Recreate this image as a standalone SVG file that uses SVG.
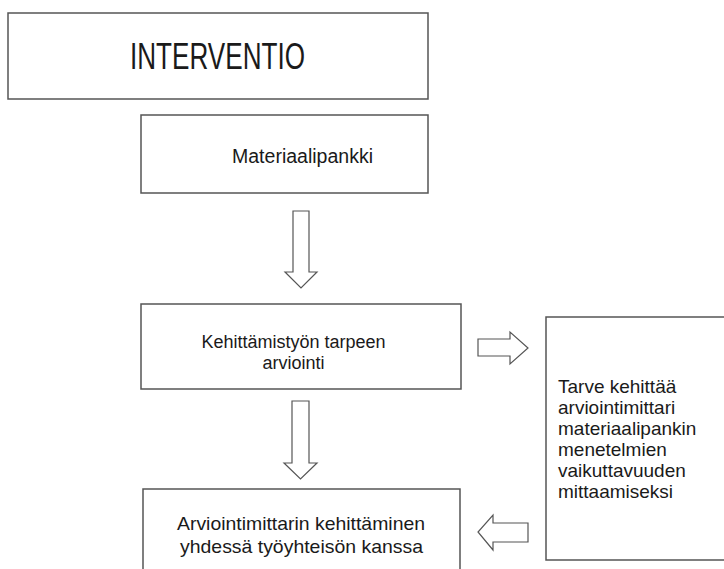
<svg xmlns="http://www.w3.org/2000/svg" width="724" height="569" viewBox="0 0 724 569">
<style>
.box{fill:#fff;stroke:#555;stroke-width:1.5}
.arr{fill:#fff;stroke:#555;stroke-width:1.2;stroke-linejoin:miter}
text{font-family:"Liberation Sans",Arial,sans-serif;fill:#1a1a1a}
.c{text-anchor:middle}
.t{font-size:19px}
</style>
<rect width="724" height="569" fill="#fff"/>
<g id="interventio">
<rect class="box" x="8" y="13" width="420" height="86"/>
<text x="130" y="69" font-size="36" textLength="175" lengthAdjust="spacingAndGlyphs">INTERVENTIO</text>
</g>
<g id="materiaalipankki">
<rect class="box" x="141" y="115" width="287" height="78"/>
<text x="232" y="163" font-size="19.5" textLength="141" lengthAdjust="spacingAndGlyphs">Materiaalipankki</text>
</g>
<g id="kehittamistyon">
<rect class="box" x="141" y="304" width="320" height="85"/>
<text class="c" x="293.5" y="348" font-size="18">Kehittämistyön tarpeen</text>
<text class="c" x="293.5" y="369" font-size="18">arviointi</text>
</g>
<g id="tarve">
<rect class="box" x="546" y="317" width="190" height="243"/>
<text class="t" x="558" y="393">Tarve kehittää</text>
<text class="t" x="558" y="414">arviointimittari</text>
<text class="t" x="558" y="435">materiaalipankin</text>
<text class="t" x="558" y="456">menetelmien</text>
<text class="t" x="558" y="477">vaikuttavuuden</text>
<text class="t" x="558" y="498">mittaamiseksi</text>
</g>
<g id="arviointimittari">
<rect class="box" x="143" y="489" width="317" height="90"/>
<text x="177" y="530" font-size="19" textLength="248" lengthAdjust="spacingAndGlyphs">Arviointimittarin kehittäminen</text>
<text x="180" y="553" font-size="19" textLength="243" lengthAdjust="spacingAndGlyphs">yhdessä työyhteisön kanssa</text>
</g>
<g id="connectors">
<polygon class="arr" points="293,211 309,211 309,272 317,272 301,288 285,272 293,272"/>
<polygon class="arr" points="292,401 309,401 309,463 317,463 300.5,479 284,463 292,463"/>
<polygon class="arr" points="478,339 510,339 510,332 528,348 510,364 510,356 478,356"/>
<polygon class="arr" points="528,523 493,523 493,515 478,532 493,550 493,542 528,542"/>
</g>
</svg>
